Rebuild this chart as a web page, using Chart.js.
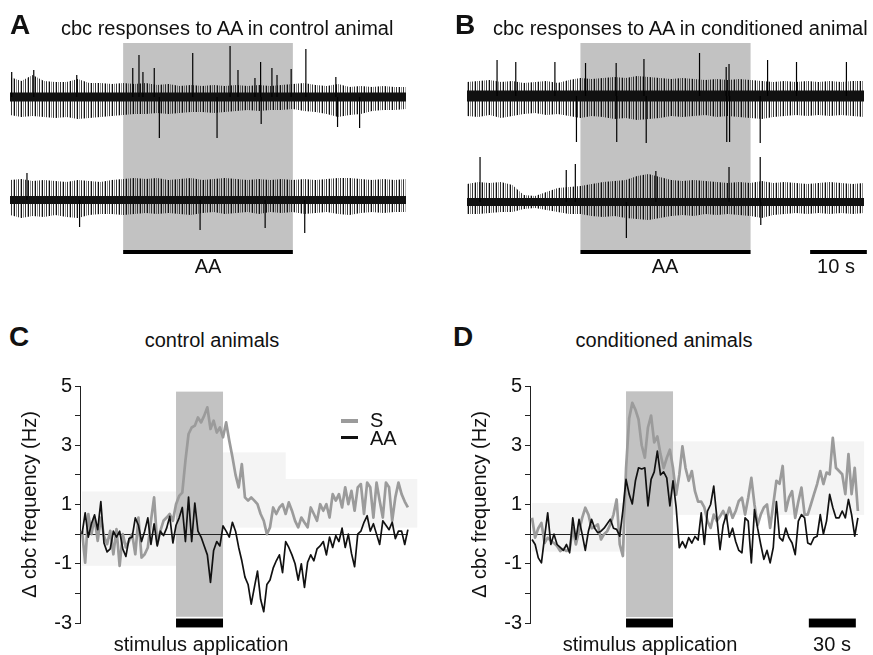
<!DOCTYPE html>
<html>
<head>
<meta charset="utf-8">
<title>cbc responses to AA</title>
<script src="https://cdn.jsdelivr.net/npm/chart.js@4.4.1/dist/chart.umd.min.js"></script>
<style>
    html, body { margin: 0; padding: 0; background: #fff; }
    #page { position: relative; width: 873px; height: 655px; overflow: hidden;
            font-family: "Liberation Sans", Arial, Helvetica, sans-serif; color: #111; }
    #page canvas { position: absolute; }
    .txt { position: absolute; font-size: 20px; line-height: 20px; white-space: nowrap; }
    .mid { transform: translateX(-50%); }
    .letter { position: absolute; font-size: 28px; line-height: 28px; font-weight: bold; }
    .key { position: absolute; left: 341px; width: 17px; }
</style>
</head>
<body>
<div id="page">
    <canvas id="chartA" width="440" height="235" style="left:0;top:30px"></canvas>
    <canvas id="chartB" width="433" height="235" style="left:440px;top:30px"></canvas>
    <canvas id="chartC" width="440" height="270" style="left:0;top:370px"></canvas>
    <canvas id="chartD" width="433" height="270" style="left:440px;top:370px"></canvas>

    <div class="letter" style="left:10px;top:11px">A</div>
    <div class="txt" style="left:61px;top:18px">cbc responses to AA in control animal</div>
    <div class="letter" style="left:455px;top:11px">B</div>
    <div class="txt" style="left:493px;top:18px">cbc responses to AA in conditioned animal</div>
    <div class="txt mid" style="left:208px;top:256px">AA</div>
    <div class="txt mid" style="left:665px;top:256px">AA</div>
    <div class="txt mid" style="left:836px;top:256px">10 s</div>

    <div class="letter" style="left:9px;top:323px">C</div>
    <div class="txt mid" style="left:212px;top:330px">control animals</div>
    <div class="letter" style="left:453px;top:323px">D</div>
    <div class="txt mid" style="left:664px;top:330px">conditioned animals</div>
    <div class="txt mid" style="left:201px;top:634px">stimulus application</div>
    <div class="txt mid" style="left:650px;top:634px">stimulus application</div>
    <div class="txt mid" style="left:832px;top:634px">30 s</div>

    <div class="key" style="top:419px;height:4px;background:#9b9b9b"></div>
    <div class="key" style="top:436px;height:3px;background:#111"></div>
    <div class="txt" style="left:370px;top:410px">S</div>
    <div class="txt" style="left:370px;top:428px">AA</div>
</div>

<script>
((document) => {
    'use strict';

    // ---- Panels A / B : raw cbc recordings (envelope every 2 s, amplitudes in px units) ----
    const TRACE_BIN = 2;
    const aaOnTrace = [20, 50];        // AA application (s)
    const scaleBarB = [60.5, 70.5];    // 10 s

    const a1Up = [20, 16, 22, 16, 15, 15, 18, 14, 14, 13, 14, 13, 14, 12, 13, 11, 12, 11,
        12, 11, 12, 11, 12, 11, 12, 13, 14, 12, 11, 13, 10, 11, 10, 11, 10, 10];
    const a1Dn = [-18, -20, -19, -20, -21, -20, -22, -21, -20, -19, -18, -17, -17, -16, -17, -16, -15, -15,
        -16, -15, -14, -13, -14, -13, -13, -12, -14, -15, -17, -20, -18, -17, -14, -13, -13, -12];
    const a1SpikeT = [0.3, 4.2, 11.8, 21.7, 22.8, 23.5, 25.5, 26.4, 32.3, 36.6, 38.9,
        40.3, 43.3, 44.3, 44.4, 46.3, 47.2, 49.7, 52.3, 57.6, 57.9, 61.8];
    const a1SpikeAmp = [25, 27, 22, 29, 42, 25, 29, -41, 44, -41, 51,
        27, 19, 35, -27, 29, 22, 28, 48, 20, -30, -31];

    const a2Up = [20, 21, 19, 20, 19, 18, 20, 19, 18, 20, 21, 22, 21, 22, 20, 21, 22, 20,
        21, 22, 21, 20, 21, 20, 21, 20, 21, 20, 21, 22, 22, 21, 20, 21, 20, 21];
    const a2Dn = [-15, -18, -16, -17, -15, -17, -18, -15, -14, -14, -15, -14, -13, -14, -13, -14, -15, -13,
        -12, -14, -13, -12, -14, -12, -13, -12, -14, -13, -12, -14, -15, -13, -12, -13, -12, -12];
    const a2SpikeT = [3.0, 12.3, 33.6, 45.1, 52.1];
    const a2SpikeAmp = [27, -27, -30, -28, -33];

    const b1Up = [14, 15, 16, 14, 15, 13, 14, 15, 13, 16, 18, 17, 18, 19, 18, 20, 19, 18,
        17, 18, 17, 16, 17, 16, 17, 16, 15, 14, 15, 14, 15, 14, 15, 14, 15, 15];
    const b1Dn = [-20, -21, -19, -22, -20, -18, -17, -19, -18, -20, -22, -20, -21, -23, -22, -24, -23, -22,
        -20, -21, -20, -19, -21, -20, -21, -22, -23, -21, -20, -19, -20, -19, -20, -19, -20, -21];
    const b1SpikeT = [5.3, 8.6, 15.5, 19.3, 20.9, 26.3, 26.4, 31.2, 31.6, 41.0,
        45.7, 45.8, 46.2, 46.3, 51.7, 53.0, 58.1, 66.9, 70.1, 70.2];
    const b1SpikeAmp = [36, 34, 34, -46, 33, 33, -46, 37, -47, 43,
        29, -46, 32, -46, -47, 36, 34, 34, 24, -47];

    const b2Up = [18, 20, 19, 20, 17, 7, 6, 10, 14, 15, 16, 18, 20, 21, 22, 26, 28, 25,
        22, 21, 22, 21, 20, 19, 20, 19, 21, 19, 20, 19, 18, 19, 20, 19, 18, 19];
    const b2Dn = [-12, -12, -11, -10, -10, -7, -6, -8, -10, -12, -12, -14, -15, -14, -16, -17, -18, -16,
        -14, -13, -14, -12, -13, -12, -13, -14, -16, -13, -12, -11, -12, -11, -12, -11, -12, -11];
    const b2SpikeT = [2.3, 17.5, 19.1, 28.1, 33.3, 46.2, 51.7, 51.8];
    const b2SpikeAmp = [45, 32, 38, -36, 31, 35, 45, -23];

    // ---- Panels C / D : change of cbc frequency (Hz), 2 s bins from -60 s ----
    const BIN_START = -60;
    const BIN_S = 2;
    const stimOnPlot = [0, 30];
    const scaleBarD = [116.7, 146.7];  // 30 s

    const controlAA = [0.0, 0.72, -0.1, 0.35, 0.65, 0.15, 1.1, -0.3, -0.6, -0.5,
        0.1, -0.1, 0.1, -0.5, -0.75, -0.15, -0.1, 0.55, 0.3, -0.25,
        0.1, 0.55, -0.35, 0.35, -0.4, 0.1, -0.05, 0.2, 0.6, -0.3,
        0.3, 0.55, 0.9, -0.25, 1.25, -0.25, 1.05, 0.1, -0.1, -0.4,
        -0.7, -1.63, -0.55, -0.25, -0.4, 0.28, 0.1, -0.1, 0.4, 0.1,
        -0.45, -0.9, -1.45, -1.7, -2.36, -1.8, -1.25, -2.2, -2.62, -1.7,
        -1.55, -1.15, -0.9, -0.7, -1.3, -0.25, -0.45, -0.7, -1.0, -1.55,
        -1.0, -1.8, -0.95, -0.7, -0.9, -0.5, -0.4, -0.25, -0.7, -0.1,
        -0.45, -0.05, -0.25, 0.2, -0.45, 0.0, -0.65, -1.1, 0.0, 0.1,
        0.4, 0.62, 0.1, 0.35, 0.0, -0.35, 0.45, 0.3, 0.15, 0.4,
        -0.15, 0.1, 0.1, -0.35, 0.15];
    const controlS = [0.11, -0.96, 0.68, 0.0, 0.56, -0.23, 0.56, -0.06, -0.34, 0.11,
        -0.68, 0.17, -1.07, 0.0, -0.45, -0.23, 0.0, -0.68, 0.56, -0.79,
        -0.68, -0.45, 0.45, 1.24, -0.34, 0.11, 0.45, 0.56, 0.68, 0.45,
        1.01, 1.29, 1.4, 2.48, 3.38, 3.6, 3.66, 3.94, 3.77, 4.0,
        4.28, 3.55, 3.83, 3.43, 3.6, 3.27, 3.77, 3.15, 2.6, 2.0,
        1.58, 2.36, 1.24, 1.13, 1.24, 1.13, 1.01, 0.68, 0.45, 0.0,
        0.23, 0.9, 0.68, 0.9, 1.01, 0.68, 1.07, 0.79, 0.45, 0.23,
        0.56, 0.39, 0.23, 0.9, 0.68, 0.45, 1.01, 0.79, 1.01, 0.56,
        1.35, 1.13, 1.35, 0.9, 1.58, 1.01, 1.46, 0.79, 1.58, 1.69,
        0.68, 1.74, 1.58, 0.56, 1.74, 1.13, 0.56, 1.74, 1.58, 0.45,
        1.24, 1.74, 1.35, 1.1, 0.9];
    const conditionedAA = [-0.18, -0.35, -0.8, -0.97, -0.1, 0.72, -0.35, 0.0, -0.35, -0.45,
        -0.55, -0.35, -0.63, 0.55, -0.18, 0.5, 0.0, -0.55, 0.1, 0.5,
        0.2, 0.05, 0.1, 0.2, 0.35, 0.5, 0.2, 0.16, -0.07, 0.8,
        1.85, 1.35, 1.02, 1.8, 2.24, 2.2, 2.24, 0.95, 1.85, 2.1,
        2.8, 2.0, 2.1, 1.9, 0.95, 1.8, 0.9, -0.46, -0.25, -0.46,
        -0.12, -0.3, -0.08, -0.2, 0.72, -0.35, 0.78, 1.0, 1.62, 0.55,
        -0.52, 0.3, 0.66, -0.1, 0.2, -0.25, -0.55, -0.63, 0.55, 0.44,
        -0.97, 0.83, 0.2, -0.35, -0.85, -0.55, -0.97, -0.45, 1.1, -0.12,
        -0.23, 0.2, -0.12, -0.3, -0.69, 0.44, 0.66, 0.55, -0.3, -0.35,
        -0.12, -0.07, 0.66, 0.0, 0.44, 1.34, 0.9, 0.55, 0.55, 0.78,
        0.55, 1.17, 0.66, -0.07, 0.55];
    const conditionedS = [0.55, -0.12, 0.2, 0.38, -0.3, -0.12, -0.23, -0.3, -0.4, -0.57,
        -0.5, -0.57, -0.52, 0.2, -0.35, 0.1, 0.55, 0.89, 0.66, 0.2,
        0.25, 0.33, -0.18, 0.0, 0.1, 0.33, 0.66, 1.17, -0.35, -0.74,
        2.2, 3.9, 4.43, 4.2, 3.87, 3.0, 2.58, 3.6, 4.0, 3.1,
        3.3, 2.7, 2.23, 2.57, 2.85, 2.23, 1.33, 2.0, 2.96, 2.23,
        1.8, 2.13, 1.45, 1.1, 1.1, 0.9, 0.44, 0.21, 0.66, 0.44,
        0.6, 0.78, 0.55, 0.89, 0.55, 0.78, 1.12, 1.23, 0.66, 1.23,
        1.9, 1.0, 0.3, 0.66, 0.9, 1.0, 0.21, 1.0, 1.8, 1.7,
        2.3, 0.78, 1.23, 1.45, 0.55, 1.1, 1.57, 0.66, 0.66, 1.0,
        1.35, 1.69, 2.13, 1.69, 2.08, 2.02, 3.25, 2.24, 2.13, 2.02,
        1.35, 2.7, 1.35, 2.24, 0.78];
    const yTicks = [5, 3, 1, -1, -3];

    const FONT = '"Liberation Sans", Arial, Helvetica, sans-serif';
    const INK = '#111';

    // Irregular vertical stripes that mimic the dense picket of small spikes
    function picket() {
        let tile = document.createElement('canvas');
        tile.width = 7;
        tile.height = 2;
        let g = tile.getContext('2d');
        let cols = ['#111', '', 'rgba(0,0,0,0.45)', '', 'rgba(20,20,20,0.85)', '', 'rgba(0,0,0,0.3)'];
        cols.forEach((c, i) => {
            if (c) {
                g.fillStyle = c;
                g.fillRect(i, 0, 1, 2);
            }
        });
        return g.createPattern(tile, 'repeat');
    }

    function fillBox(ctx, x, y, box, color) {
        let x0 = x.getPixelForValue(box[0]);
        let x1 = x.getPixelForValue(box[1]);
        let y0 = y.getPixelForValue(box[3]);
        let y1 = y.getPixelForValue(box[2]);
        ctx.fillStyle = color;
        ctx.fillRect(x0, y0, x1 - x0, y1 - y0);
    }

    // Shading, background bands, zero line and black bars, all placed through the scales
    function panelDeco(cfg) {
        return {
            id: 'panelDeco',
            beforeDatasetsDraw(chart) {
                const {ctx, chartArea, scales: {x, y}} = chart;
                ctx.save();
                (cfg.bands || []).forEach(b => fillBox(ctx, x, y, b, '#f4f4f4'));
                fillBox(ctx, x, y, cfg.shade, '#c2c2c2');
                if (cfg.zeroTo !== undefined) {
                    let py = Math.round(y.getPixelForValue(0)) + 0.5;
                    ctx.strokeStyle = '#222';
                    ctx.lineWidth = 1;
                    ctx.beginPath();
                    ctx.moveTo(chartArea.left, py);
                    ctx.lineTo(x.getPixelForValue(cfg.zeroTo), py);
                    ctx.stroke();
                }
                ctx.restore();
            },
            afterDatasetsDraw(chart) {
                const {ctx, scales: {x, y}} = chart;
                ctx.save();
                cfg.bars.forEach(b => fillBox(ctx, x, y, b, '#000'));
                ctx.restore();
            }
        };
    }

    function traceDatasets(up, dn, spikeT, spikeAmp, offset, coreWidth, pattern) {
        let times = up.map((_, i) => i * TRACE_BIN);
        let spikes = [];
        spikeT.forEach((t, k) => {
            spikes.push({x: t, y: offset}, {x: t, y: offset + spikeAmp[k]}, {x: t, y: null});
        });
        let line = {pointRadius: 0, tension: 0, borderCapStyle: 'butt'};
        return [
            Object.assign({data: spikes, borderColor: '#000', borderWidth: 1.2, spanGaps: false}, line),
            Object.assign({data: times.map(t => ({x: t, y: offset})), borderColor: INK,
                borderWidth: coreWidth}, line),
            Object.assign({data: times.map((t, i) => ({x: t, y: offset + up[i]})),
                borderColor: 'rgba(0,0,0,0)', borderWidth: 0,
                backgroundColor: pattern, fill: {value: offset}}, line),
            Object.assign({data: times.map((t, i) => ({x: t, y: offset + dn[i]})),
                borderColor: 'rgba(0,0,0,0)', borderWidth: 0,
                backgroundColor: pattern, fill: {value: offset}}, line)
        ];
    }

    function traceChart(id, datasets, padding, deco) {
        new Chart(document.getElementById(id), {
            type: 'line',
            data: {datasets: datasets},
            options: {
                responsive: false,
                animation: false,
                events: [],
                layout: {padding: padding},
                plugins: {legend: {display: false}, tooltip: {enabled: false}},
                scales: {
                    x: {type: 'linear', display: false, min: 0, max: 70},
                    y: {type: 'linear', display: false, min: -168, max: 67}
                }
            },
            plugins: [panelDeco(deco)]
        });
    }

    // Draw recordings A and B
    let stripes = picket();
    traceChart('chartA',
        traceDatasets(a1Up, a1Dn, a1SpikeT, a1SpikeAmp, 0, 9, stripes)
            .concat(traceDatasets(a2Up, a2Dn, a2SpikeT, a2SpikeAmp, -103, 8, stripes)),
        {left: 10, right: 34, top: 0, bottom: 0},
        {
            shade: [aaOnTrace[0], aaOnTrace[1], -153, 54],
            bars: [[aaOnTrace[0], aaOnTrace[1], -157, -153]]
        });
    traceChart('chartB',
        traceDatasets(b1Up, b1Dn, b1SpikeT, b1SpikeAmp, 1, 11, stripes)
            .concat(traceDatasets(b2Up, b2Dn, b2SpikeT, b2SpikeAmp, -105, 8, stripes)),
        {left: 27, right: 9, top: 0, bottom: 0},
        {
            shade: [aaOnTrace[0], aaOnTrace[1], -153, 54],
            bars: [[aaOnTrace[0], aaOnTrace[1], -157, -153], [scaleBarB[0], scaleBarB[1], -157, -153]]
        });

    // Draw frequency plots C and D
    function frequencyChart(id, sValues, aaValues, axisWidth, titlePad, xMin, rightPad, deco) {
        let times = sValues.map((_, i) => BIN_START + i * BIN_S);
        deco.zeroTo = times[times.length - 1];
        let line = {pointRadius: 0, tension: 0, borderJoinStyle: 'round'};

        new Chart(document.getElementById(id), {
            type: 'line',
            data: {
                datasets: [
                    Object.assign({label: 'AA', data: times.map((t, i) => ({x: t, y: aaValues[i]})),
                        borderColor: INK, borderWidth: 1.7}, line),
                    Object.assign({label: 'S', data: times.map((t, i) => ({x: t, y: sValues[i]})),
                        borderColor: '#9b9b9b', borderWidth: 2.7}, line)
                ]
            },
            options: {
                responsive: false,
                animation: false,
                events: [],
                layout: {padding: {left: 0, right: rightPad, top: 16, bottom: 17}},
                plugins: {legend: {display: false}, tooltip: {enabled: false}},
                scales: {
                    x: {type: 'linear', display: false, min: xMin, max: 150},
                    y: {
                        min: -3,
                        max: 5,
                        afterFit: function (scale) {
                            scale.width = axisWidth;
                        },
                        ticks: {
                            stepSize: 1,
                            autoSkip: false,
                            padding: 3,
                            color: INK,
                            font: {family: FONT, size: 20},
                            callback: function (value) {
                                return yTicks.includes(value) ? value : '';
                            }
                        },
                        grid: {drawOnChartArea: false, tickLength: 5, color: '#222'},
                        border: {display: true, color: '#222', width: 1},
                        title: {
                            display: true,
                            text: '\u0394 cbc frequency (Hz)',
                            color: INK,
                            font: {family: FONT, size: 20},
                            padding: {top: titlePad, bottom: 0}
                        }
                    }
                }
            },
            plugins: [panelDeco(deco)]
        });
    }

    frequencyChart('chartC', controlS, controlAA, 80, 18, -61.3, 29, {
        bands: [[-60, 0, -1.07, 1.44], [30, 154, 0.22, 1.86], [30, 70, 1.86, 2.76]],
        shade: [stimOnPlot[0], stimOnPlot[1], -2.79, 4.81],
        bars: [[stimOnPlot[0], stimOnPlot[1], -3.15, -2.85]]
    });
    frequencyChart('chartD', conditionedS, conditionedAA, 90, 28, -61.3, 12, {
        bands: [[-60, 0, -0.59, 1.05], [30, 152, 0.65, 3.13]],
        shade: [stimOnPlot[0], stimOnPlot[1], -2.8, 4.82],
        bars: [[stimOnPlot[0], stimOnPlot[1], -3.15, -2.85], [scaleBarD[0], scaleBarD[1], -3.15, -2.85]]
    });
})(document);
</script>
</body>
</html>
